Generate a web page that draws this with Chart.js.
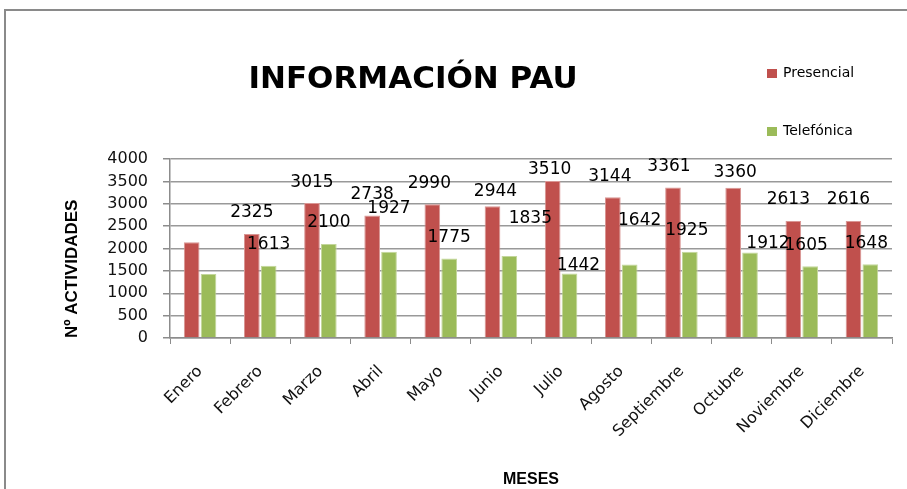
<!DOCTYPE html>
<html lang="es">
<head>
<meta charset="utf-8">
<title>Información PAU</title>
<script src="https://cdn.jsdelivr.net/npm/chart.js@4"></script>
<style>
    html, body { margin: 0; padding: 0; background: #fff; overflow: hidden; }
    #wrap { position: relative; width: 907px; height: 489px; }
</style>
</head>
<body>
<div id="wrap"><canvas id="grafico"></canvas></div>
<script>
// Datos
const MESES = ['Enero', 'Febrero', 'Marzo', 'Abril', 'Mayo', 'Junio', 'Julio', 'Agosto', 'Septiembre', 'Octubre', 'Noviembre', 'Diciembre'];
const PRESENCIAL = [2140, 2325, 3015, 2738, 2990, 2944, 3510, 3144, 3361, 3360, 2613, 2616];
const TELEFONICA = [1430, 1613, 2100, 1927, 1775, 1835, 1442, 1642, 1925, 1912, 1605, 1648];
// Enero no lleva etiqueta en el original
const ETIQ_PRESENCIAL = [null, '2325', '3015', '2738', '2990', '2944', '3510', '3144', '3361', '3360', '2613', '2616'];
const ETIQ_TELEFONICA = [null, '1613', '2100', '1927', '1775', '1835', '1442', '1642', '1925', '1912', '1605', '1648'];
const Y_MIN = 0, Y_MAX = 4000, Y_PASO = 500;

const ROJO = '#c0504d';
const VERDE = '#9bbb59';
const GRIS = '#8c8c8c';

// Desplazamientos manuales de las etiquetas (px), como quedaron en Excel
const AJUSTE_PRESENCIAL = [[0,0],[0,0],[0,0],[0,0],[-3,0],[3,6],[-3,10],[-3,0],[-4,0],[2,6],[-5,0],[-5,0]];
const AJUSTE_TELEFONICA = [[0,0],[0,0],[0,0],[0,-22],[0,0],[21,-16],[9,13],[10,-23],[-3,0],[18,12],[-4,0],[-4,0]];

const marcoYTitulo = {
    id: 'marcoYTitulo',
    beforeDraw(chart) {
        const ctx = chart.ctx;
        ctx.save();
        ctx.fillStyle = '#fff';
        ctx.fillRect(0, 0, chart.width, chart.height);
        ctx.strokeStyle = '#8a8a8a';
        ctx.lineWidth = 2;
        ctx.beginPath();
        ctx.moveTo(5, chart.height + 5);
        ctx.lineTo(5, 10);
        ctx.lineTo(chart.width + 5, 10);
        ctx.stroke();
        ctx.restore();
    },
    afterDraw(chart) {
        const ctx = chart.ctx;
        ctx.save();
        // titulo
        ctx.fillStyle = '#000';
        ctx.font = 'bold 31px "DejaVu Sans"';
        ctx.textAlign = 'center';
        ctx.textBaseline = 'middle';
        ctx.fillText('INFORMACIÓN PAU', 413, 80);
        // leyenda vertical a la derecha
        ctx.font = '14px "DejaVu Sans"';
        ctx.textAlign = 'left';
        chart.data.datasets.forEach((ds, i) => {
            const y = 73 + i * 58;
            ctx.fillStyle = ds.backgroundColor;
            ctx.fillRect(767, y - 4, 10, 9);
            ctx.fillStyle = '#000';
            ctx.fillText(ds.label, 783, y);
        });
        ctx.restore();
    }
};

const etiquetas = {
    id: 'etiquetas',
    afterDatasetsDraw(chart) {
        const ctx = chart.ctx;
        ctx.save();
        ctx.font = '17px "DejaVu Sans"';
        ctx.fillStyle = '#000';
        ctx.textAlign = 'center';
        ctx.textBaseline = 'middle';
        const grupos = [[ETIQ_PRESENCIAL, AJUSTE_PRESENCIAL], [ETIQ_TELEFONICA, AJUSTE_TELEFONICA]];
        grupos.forEach(([textos, ajustes], d) => {
            const meta = chart.getDatasetMeta(d);
            meta.data.forEach((bar, i) => {
                if (!textos[i]) return;
                ctx.fillText(textos[i], bar.x + ajustes[i][0], bar.y - 21 + ajustes[i][1]);
            });
        });
        ctx.restore();
    }
};

new Chart(document.getElementById('grafico'), {
    type: 'bar',
    data: {
        labels: MESES,
        datasets: [{
            label: 'Presencial',
            data: PRESENCIAL,
            backgroundColor: ROJO,
            borderColor: '#d99694',
            borderWidth: 1,
            categoryPercentage: 0.56,
            barPercentage: 0.93
        }, {
            label: 'Telefónica',
            data: TELEFONICA,
            backgroundColor: VERDE,
            borderColor: '#c3d69b',
            borderWidth: 1,
            categoryPercentage: 0.56,
            barPercentage: 0.93
        }]
    },
    options: {
        responsive: true,
        maintainAspectRatio: false,
        animation: false,
        layout: { padding: { top: 159, right: 15, left: 0, bottom: 0 } },
        plugins: {
            legend: { display: false },
            tooltip: { enabled: false }
        },
        scales: {
            x: {
                afterFit: s => { s.height = 151; },
                grid: { drawOnChartArea: false, color: GRIS, tickLength: 6, tickColor: GRIS },
                border: { color: GRIS, width: 1.5 },
                ticks: {
                    color: '#111',
                    font: { family: '"DejaVu Sans"', size: 16 },
                    maxRotation: 45,
                    minRotation: 45,
                    padding: 18
                },
                title: {
                    display: true,
                    text: 'MESES',
                    color: '#000',
                    font: { family: '"Liberation Sans"', size: 16, weight: 'bold' },
                    padding: { top: 0, bottom: 0 }
                }
            },
            y: {
                min: Y_MIN,
                max: Y_MAX,
                afterFit: s => { s.width = 170; },
                grid: { color: '#999', lineWidth: 1.5, tickLength: 7, tickColor: GRIS },
                border: { color: GRIS, width: 1.5 },
                ticks: {
                    stepSize: Y_PASO,
                    color: '#111',
                    font: { family: '"DejaVu Sans"', size: 16 },
                    padding: 15,
                    callback: v => String(v)
                },
                title: {
                    display: true,
                    text: 'Nº ACTIVIDADES',
                    align: 'start',
                    color: '#000',
                    font: { family: '"Liberation Sans"', size: 17, weight: 'bold' },
                    padding: { top: 62, bottom: 0 }
                }
            }
        }
    },
    plugins: [marcoYTitulo, etiquetas]
});
</script>
</body>
</html>
